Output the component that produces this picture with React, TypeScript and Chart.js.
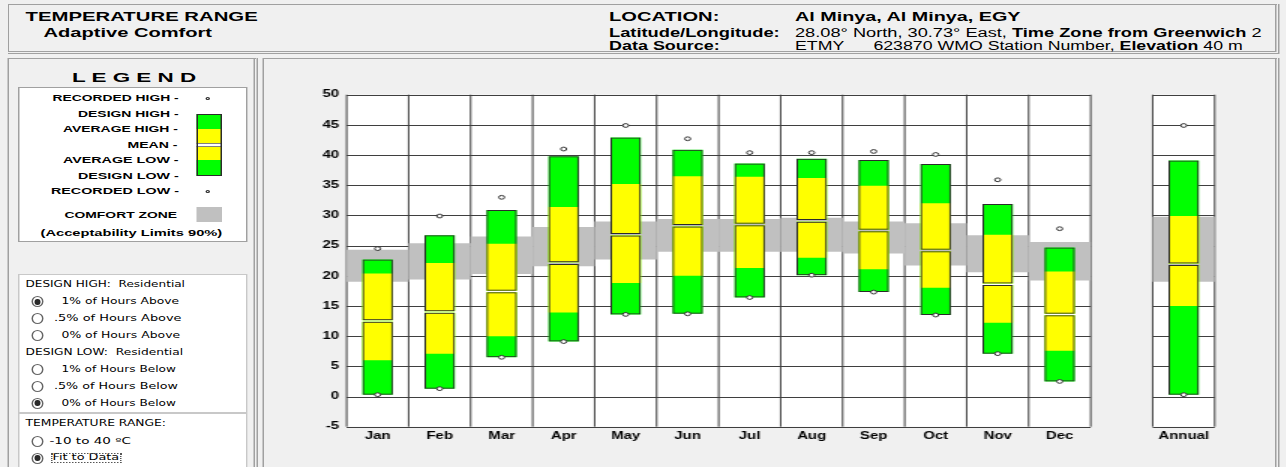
import React, { useEffect, useLayoutEffect, useRef } from 'react';
import { Chart, registerables } from 'chart.js';

Chart.register(...registerables);

// ---------------- data ----------------
const MONTHS = ['Jan', 'Feb', 'Mar', 'Apr', 'May', 'Jun', 'Jul', 'Aug', 'Sep', 'Oct', 'Nov', 'Dec'];
const ANNUAL_LABEL = 'Annual';

const RECORDED_HIGH = [24.5, 29.9, 33.0, 41.0, 44.9, 42.7, 40.4, 40.4, 40.6, 40.1, 35.9, 27.8];
const DESIGN_HIGH = [22.7, 26.7, 30.9, 39.8, 42.9, 40.9, 38.6, 39.4, 39.2, 38.5, 31.9, 24.7];
const AVERAGE_HIGH = [20.4, 22.1, 25.3, 31.4, 35.2, 36.5, 36.4, 36.2, 34.9, 32.0, 26.8, 20.7];
const MEAN = [12.5, 14.0, 17.4, 22.1, 26.8, 28.3, 28.5, 29.1, 27.5, 24.2, 18.6, 13.6];
const AVERAGE_LOW = [6.0, 7.1, 10.0, 13.9, 18.8, 20.0, 21.3, 23.0, 21.1, 18.0, 12.2, 7.6];
const DESIGN_LOW = [0.3, 1.3, 6.5, 9.1, 13.6, 13.7, 16.4, 20.1, 17.3, 13.5, 7.1, 2.5];
const RECORDED_LOW = [0.3, 1.3, 6.5, 9.1, 13.6, 13.7, 16.4, 20.1, 17.3, 13.5, 7.1, 2.5];
const COMFORT_HIGH = [24.3, 25.4, 26.5, 28.1, 29.0, 29.4, 29.4, 29.6, 29.0, 28.7, 26.7, 25.6];
const COMFORT_LOW = [19.0, 19.4, 20.3, 21.6, 22.7, 24.0, 24.0, 24.0, 23.7, 21.7, 20.6, 19.2];

const ANNUAL_RECORDED_HIGH = 44.9;
const ANNUAL_DESIGN_HIGH = 39.1;
const ANNUAL_AVERAGE_HIGH = 29.9;
const ANNUAL_MEAN = 21.9;
const ANNUAL_AVERAGE_LOW = 15.0;
const ANNUAL_DESIGN_LOW = 0.3;
const ANNUAL_RECORDED_LOW = 0.3;
const ANNUAL_COMFORT_HIGH = 29.8;
const ANNUAL_COMFORT_LOW = 19.0;

const Y_MIN = -5;
const Y_MAX = 50;
const Y_STEP = 5;

// ---------------- styles ----------------
const SX = 1.5; // the reference is horizontally stretched
const PAGE_W = 1286;
const PAGE_H = 467;
const W0 = PAGE_W / SX;

const ARIAL = "'Liberation Sans', Arial, sans-serif";
const TAHOMA = "'DejaVu Sans', Verdana, sans-serif";
const BG = '#f0f0f0';
const PANEL_LINE = '#a0a0a0';
const GREEN = '#00ff00';
const YELLOW = '#ffff00';
const COMFORT = '#c0c0c0';
const EDGE = '#2b2b2b';
const GRID = '#3f3f3f';
const MEAN_GAP = 0.13;
const BAR_PCT = 0.49;

// canvas placement (unstretched coordinates)
const CX = 176;
const CY = 60;
const CW = 673;
const CH = 407;
const PLOT_LEFT = 55.1;
const PLOT_RIGHT_PAD = 39.2;
const PLOT_TOP = 34.7;
const XAXIS_H = 40.3;

function FitText(props: {
  x: number; base: number; size: number; w?: number; bold?: boolean; family?: string;
  children: React.ReactNode; color?: string; style?: React.CSSProperties;
}) {
  const { x, base, size, w, bold, family = ARIAL, children, color = '#000', style } = props;
  const ref = useRef<HTMLSpanElement>(null);
  useLayoutEffect(() => {
    const el = ref.current;
    if (!el || !w) return;
    const ow = el.offsetWidth;
    if (ow > 0) el.style.transform = `scaleX(${w / ow})`;
  }, [w]);
  return (
    <span
      ref={ref}
      style={{
        position: 'absolute', left: x, top: base - 0.846 * size, fontSize: size,
        lineHeight: `${size}px`, fontWeight: bold ? 700 : 400, fontFamily: family,
        whiteSpace: 'pre', display: 'inline-block', transformOrigin: '0 0', color, ...style,
      }}
    >
      {children}
    </span>
  );
}

function Radio(props: { cx: number; cy: number; on?: boolean }) {
  const { cx, cy, on } = props;
  const w = 8, h = 11;
  return (
    <div style={{ position: 'absolute', left: cx - w / 2, top: cy - h / 2, width: w, height: h,
      boxSizing: 'border-box', borderRadius: '50%', border: '1px solid #666', background: '#fff' }}>
      {on && <div style={{ position: 'absolute', left: 1.2, top: 1.6, width: 3.6, height: 5.8,
        borderRadius: '50%', background: '#2a2a2a' }} />}
    </div>
  );
}

function Box(props: { l: number; t: number; w: number; h: number; style?: React.CSSProperties }) {
  const { l, t, w, h, style } = props;
  return <div style={{ position: 'absolute', left: l, top: t, width: w, height: h, boxSizing: 'border-box', ...style }} />;
}

const withAnnual = (arr: number[], annual: number): (number | null)[] => [...arr, null, annual];
const pairs = (lo: (number | null)[], hi: (number | null)[]) =>
  lo.map((v, i) => (v == null || hi[i] == null ? null : [v, hi[i] as number]));

function TempChart() {
  const ref = useRef<HTMLCanvasElement>(null);
  useEffect(() => {
    const canvas = ref.current;
    if (!canvas) return;
    const labels = [...MONTHS, '', ANNUAL_LABEL];
    const dHigh = withAnnual(DESIGN_HIGH, ANNUAL_DESIGN_HIGH);
    const aHigh = withAnnual(AVERAGE_HIGH, ANNUAL_AVERAGE_HIGH);
    const mean = withAnnual(MEAN, ANNUAL_MEAN);
    const aLow = withAnnual(AVERAGE_LOW, ANNUAL_AVERAGE_LOW);
    const dLow = withAnnual(DESIGN_LOW, ANNUAL_DESIGN_LOW);
    const rHigh = withAnnual(RECORDED_HIGH, ANNUAL_RECORDED_HIGH);
    const rLow = withAnnual(RECORDED_LOW, ANNUAL_RECORDED_LOW);
    const cHigh = withAnnual(COMFORT_HIGH, ANNUAL_COMFORT_HIGH);
    const cLow = withAnnual(COMFORT_LOW, ANNUAL_COMFORT_LOW);
    const meanLo = mean.map((m) => (m == null ? null : m - MEAN_GAP));
    const meanHi = mean.map((m) => (m == null ? null : m + MEAN_GAP));

    const barBase = { type: 'bar' as const, grouped: false, categoryPercentage: 1, barPercentage: BAR_PCT, borderWidth: 0, inflateAmount: 0 };
    const pointBase = {
      type: 'line' as const, showLine: false, pointRadius: 1.9, pointHoverRadius: 1.9, pointBorderWidth: 1,
      pointBackgroundColor: '#ffffff', pointBorderColor: '#333333', borderColor: '#333333', order: 1,
    };

    const gridPlugin = {
      id: 'panelGrid',
      beforeDatasetsDraw(chart: any) {
        const { ctx } = chart;
        const x = chart.scales.x;
        const y = chart.scales.y;
        const colW = x.getPixelForValue(1) - x.getPixelForValue(0);
        const top = y.getPixelForValue(Y_MAX);
        const bottom = y.getPixelForValue(Y_MIN);
        const regions: [number, number, number][] = [
          [x.getPixelForValue(0) - colW / 2, x.getPixelForValue(MONTHS.length - 1) + colW / 2, MONTHS.length - 1],
          [x.getPixelForValue(MONTHS.length + 1) - colW / 2, x.getPixelForValue(MONTHS.length + 1) + colW / 2, 0],
        ];
        ctx.save();
        for (const [l, r, n] of regions) {
          ctx.fillStyle = '#ffffff';
          ctx.fillRect(l, top, r - l, bottom - top);
          ctx.strokeStyle = GRID;
          ctx.lineWidth = 1;
          ctx.beginPath();
          y.ticks.forEach((t: any) => {
            const py = Math.round(y.getPixelForValue(t.value)) + 0.5;
            ctx.moveTo(l, py);
            ctx.lineTo(r, py);
          });
          for (let i = 0; i <= n + 1; i++) {
            const px = l + i * colW;
            ctx.moveTo(px, top);
            ctx.lineTo(px, bottom);
          }
          ctx.stroke();
        }
        ctx.restore();
      },
    };

    const chart = new Chart(canvas, {
      type: 'bar',
      data: {
        labels,
        datasets: [
          { ...barBase, label: 'Comfort zone', data: pairs(cLow, cHigh) as any, backgroundColor: COMFORT, barPercentage: 1, order: 10 },
          { ...barBase, label: 'Design low to mean', data: pairs(dLow, meanLo) as any, backgroundColor: GREEN, order: 8 },
          { ...barBase, label: 'Mean to design high', data: pairs(meanHi, dHigh) as any, backgroundColor: GREEN, order: 8 },
          { ...barBase, label: 'Average low to mean', data: pairs(aLow, meanLo) as any, backgroundColor: YELLOW, order: 7 },
          { ...barBase, label: 'Mean to average high', data: pairs(meanHi, aHigh) as any, backgroundColor: YELLOW, order: 7 },
          { ...barBase, label: 'Lower box', data: pairs(dLow, meanLo) as any, backgroundColor: 'rgba(0,0,0,0)', borderColor: EDGE, borderWidth: 1, borderSkipped: false, order: 6 },
          { ...barBase, label: 'Upper box', data: pairs(meanHi, dHigh) as any, backgroundColor: 'rgba(0,0,0,0)', borderColor: EDGE, borderWidth: 1, borderSkipped: false, order: 6 },
          { ...pointBase, label: 'Recorded high', data: rHigh as any },
          { ...pointBase, label: 'Recorded low', data: rLow as any },
        ] as any,
      },
      options: {
        responsive: false,
        animation: false,
        devicePixelRatio: 1,
        layout: { padding: { left: 0, right: PLOT_RIGHT_PAD, top: PLOT_TOP, bottom: 0 } },
        plugins: { legend: { display: false }, tooltip: { enabled: false } },
        events: [],
        scales: {
          x: {
            type: 'category',
            grid: { display: false, drawTicks: false },
            border: { display: false },
            ticks: { autoSkip: false, maxRotation: 0, minRotation: 0, padding: 4, color: '#000',
              font: { family: ARIAL, size: 10, weight: 'bold' } },
            afterFit: (s: any) => { s.height = XAXIS_H; },
          },
          y: {
            type: 'linear',
            min: Y_MIN,
            max: Y_MAX,
            grid: { display: false, drawTicks: false },
            border: { display: false },
            ticks: { stepSize: Y_STEP, padding: 5, color: '#000',
              font: { family: ARIAL, size: 10, weight: 'bold' } },
            afterFit: (s: any) => { s.width = PLOT_LEFT; },
          },
        },
      } as any,
      plugins: [gridPlugin],
    });
    return () => chart.destroy();
  }, []);
  return (
    <canvas ref={ref} width={CW} height={CH}
      style={{ position: 'absolute', left: CX, top: CY, width: CW, height: CH }} />
  );
}

const LEGEND_ROWS: [string, number, number, number][] = [
  ['RECORDED HIGH -', 34.5, 84.4, 102],
  ['DESIGN HIGH -', 52.2, 66.7, 117.3],
  ['AVERAGE HIGH -', 42.2, 76.7, 133],
  ['MEAN -', 85.1, 33.7, 148.5],
  ['AVERAGE LOW -', 42.2, 76.7, 164.2],
  ['DESIGN LOW -', 51.5, 67.3, 179.5],
  ['RECORDED LOW -', 33.8, 85.1, 194.7],
  ['COMFORT ZONE', 42.7, 75.5, 218.5],
];

const RADIO_ROWS: [string, number, number, number, number, boolean][] = [
  ['1% of Hours Above', 40.5, 78.9, 305, 301.7, true],
  ['.5% of Hours Above', 35.5, 84.9, 322, 318.5, false],
  ['0% of Hours Above', 40.5, 79.5, 338.7, 335.3, false],
  ['1% of Hours Below', 40.5, 76.7, 373, 369.3, false],
  ['.5% of Hours Below', 35.5, 82.5, 390, 386.3, false],
  ['0% of Hours Below', 40.5, 76.7, 406.7, 403, true],
  ['-10 to 40 ºC', 33.3, 54, 444.5, 441.5, false],
  ['Fit to Data', 35.1, 44.9, 461, 458, true],
];

export default function App() {
  const mbL = 130.5, mbW = 17.3;
  return (
    <div style={{ position: 'fixed', left: 0, top: 0, width: W0, height: PAGE_H, background: BG,
      transform: `scaleX(${SX})`, transformOrigin: '0 0', overflow: 'hidden' }}>
      {/* header */}
      <Box l={5.3} t={4} w={847.4} h={50} style={{ borderTop: `1px solid ${PANEL_LINE}`, borderLeft: `1px solid ${PANEL_LINE}`,
        borderRight: `3px double ${PANEL_LINE}`, borderBottom: `3px double ${PANEL_LINE}` }} />
      <FitText x={16.7} base={20.5} size={13} w={155.3} bold>TEMPERATURE RANGE</FitText>
      <FitText x={28.9} base={37} size={13} w={112.3} bold>Adaptive Comfort</FitText>
      <FitText x={406.2} base={21} size={13} w={73.3} bold>LOCATION:</FitText>
      <FitText x={406.2} base={36.7} size={12} w={113.8} bold>Latitude/Longitude:</FitText>
      <FitText x={406.2} base={50.5} size={12} w={73.8} bold>Data Source:</FitText>
      <FitText x={530} base={21} size={13} w={150} bold>Al Minya, Al Minya, EGY</FitText>
      <FitText x={530} base={36.7} size={12} w={311.5}>
        28.08° North, 30.73° East, <span style={{ fontWeight: 700 }}>Time Zone from Greenwich</span> 2
      </FitText>
      <FitText x={530} base={50.5} size={12} w={298.2}>
        {'ETMY      623870 WMO Station Number, '}<span style={{ fontWeight: 700 }}>Elevation</span> 40 m
      </FitText>

      {/* left panel */}
      <Box l={5.3} t={58} w={166.7} h={430} style={{ borderTop: `1px solid ${PANEL_LINE}`, borderLeft: `1px solid ${PANEL_LINE}`,
        borderRight: `3px double ${PANEL_LINE}` }} />
      <FitText x={47.8} base={82.3} size={12} w={82.2} bold>L E G E N D</FitText>
      <Box l={12.2} t={87.3} w={152.7} h={155} style={{ background: '#fff', border: `1px solid ${PANEL_LINE}` }} />
      {LEGEND_ROWS.map(([t, l, w, b]) => (
        <FitText key={t} x={l} base={b} size={9.2} w={w} bold>{t}</FitText>
      ))}
      <FitText x={27.1} base={237} size={9.2} w={121.3} bold>(Acceptability Limits 90%)</FitText>
      {/* mini bar */}
      <Box l={mbL} t={113.7} w={mbW} h={15.6} style={{ background: GREEN }} />
      <Box l={mbL} t={129.3} w={mbW} h={13.4} style={{ background: YELLOW }} />
      <Box l={mbL} t={142.7} w={mbW} h={4.6} style={{ background: '#fff', borderTop: '1px solid #808080', borderBottom: '1px solid #808080' }} />
      <Box l={mbL} t={147.3} w={mbW} h={12.7} style={{ background: YELLOW }} />
      <Box l={mbL} t={160} w={mbW} h={16.3} style={{ background: GREEN }} />
      <Box l={mbL} t={113.7} w={mbW} h={62.6} style={{ border: `1px solid ${EDGE}` }} />
      <Box l={137.2} t={96.6} w={3} h={3.2} style={{ border: '1px solid #333', borderRadius: '50%', background: '#fff' }} />
      <Box l={137.2} t={190.1} w={3} h={3.2} style={{ border: '1px solid #333', borderRadius: '50%', background: '#fff' }} />
      <Box l={mbL} t={206.7} w={mbW} h={15.3} style={{ background: COMFORT }} />

      {/* radio groups */}
      <Box l={12.2} t={274} w={152.5} h={139} style={{ background: '#fff', border: '1px solid #c8c8c8' }} />
      <Box l={12.2} t={412.7} w={152.5} h={70} style={{ background: '#fff', border: '1px solid #c8c8c8' }} />
      <FitText x={17.3} base={288} size={8} w={106.5} family={TAHOMA}>DESIGN HIGH:  Residential</FitText>
      <FitText x={17.3} base={356} size={8} w={104.9} family={TAHOMA}>DESIGN LOW:  Residential</FitText>
      <FitText x={17.3} base={427} size={8} w={93.3} family={TAHOMA}>TEMPERATURE RANGE:</FitText>
      {RADIO_ROWS.map(([t, l, w, b, cy, on]) => (
        <React.Fragment key={t}>
          <Radio cx={24.9} cy={cy} on={on} />
          <FitText x={l} base={b} size={8} w={w} family={TAHOMA}>{t}</FitText>
        </React.Fragment>
      ))}
      <Box l={34.3} t={452.5} w={46.6} h={10.5} style={{ border: '1px dotted #555' }} />

      {/* chart panel */}
      <Box l={174.7} t={58} w={678} h={430} style={{ borderTop: `1px solid ${PANEL_LINE}`, borderLeft: `1px solid ${PANEL_LINE}`,
        borderRight: `3px double ${PANEL_LINE}` }} />
      <TempChart />
    </div>
  );
}
